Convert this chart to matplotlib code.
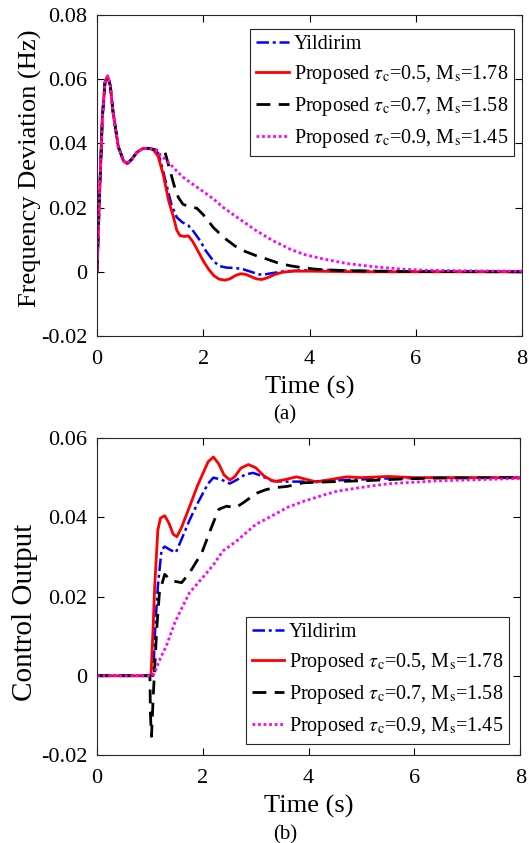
import matplotlib.pyplot as plt

plt.rcParams['font.family'] = ['Liberation Serif', 'DejaVu Serif']
plt.rcParams['mathtext.fontset'] = 'stix'
plt.rcParams['axes.unicode_minus'] = False

labels = ['Yildirim',
          r'Proposed $\tau_{\rm c}$=0.5, M$_{\rm s}$=1.78',
          r'Proposed $\tau_{\rm c}$=0.7, M$_{\rm s}$=1.58',
          r'Proposed $\tau_{\rm c}$=0.9, M$_{\rm s}$=1.45']

# (a) frequency deviation, shared start of all four responses
t_common = [0, 0.05, 0.1, 0.15, 0.2, 0.25, 0.3, 0.4, 0.5, 0.57, 0.65, 0.75, 0.85, 0.95, 1.05]
f_common = [0, 0.025, 0.048, 0.059, 0.061, 0.058, 0.05, 0.039, 0.0345, 0.0337, 0.035, 0.0372,
            0.0383, 0.0385, 0.0382]

t_f_yil = [1.15, 1.22, 1.31, 1.4, 1.5, 1.6, 1.72, 1.82, 1.94, 2.05, 2.19, 2.3, 2.44, 2.6, 2.75,
           2.9, 3.05, 3.13, 3.3, 3.5, 3.8, 4.3, 5, 6, 8]
f_yil = [0.037, 0.033, 0.027, 0.021, 0.017, 0.0155, 0.0144, 0.0125, 0.0097, 0.0065, 0.0034,
         0.0018, 0.0013, 0.0012, 0.0008, 0.0, -0.0008, -0.0009, -0.0004, 0.0001, 0.0004, 0.0006,
         0.0003, 0.0001, 0]

t_f_05 = [1.15, 1.25, 1.35, 1.44, 1.5, 1.56, 1.64, 1.72, 1.8, 1.9, 2.0, 2.1, 2.2, 2.3, 2.41, 2.5,
          2.6, 2.7, 2.8, 2.9, 3.0, 3.1, 3.2, 3.35, 3.5, 3.7, 4.0, 4.5, 5, 8]
f_05 = [0.036, 0.030, 0.022, 0.017, 0.013, 0.0113, 0.011, 0.0112, 0.0095, 0.0065, 0.0034, 0.0008,
        -0.0012, -0.0023, -0.0026, -0.0022, -0.0012, -0.0006, -0.0008, -0.0015, -0.0022, -0.0024,
        -0.0019, -0.0008, -0.0001, 0.0002, 0.0002, 0.0001, 0, 0]

t_f_07 = [1.15, 1.22, 1.28, 1.35, 1.45, 1.53, 1.62, 1.75, 1.88, 2.0, 2.19, 2.4, 2.6, 2.75, 3.0,
          3.19, 3.4, 3.63, 3.9, 4.13, 4.6, 5.2, 6, 8]
f_07 = [0.0378, 0.0378, 0.0373, 0.033, 0.027, 0.0232, 0.021, 0.0203, 0.0198, 0.0178, 0.0138,
        0.0105, 0.008, 0.0066, 0.005, 0.004, 0.0028, 0.0019, 0.0012, 0.0008, 0.0004, 0.0002,
        0.0001, 0]

t_f_09 = [1.12, 1.2, 1.3, 1.37, 1.5, 1.62, 1.75, 2.0, 2.2, 2.38, 2.6, 2.8, 3.0, 3.3, 3.63, 3.9,
          4.26, 4.7, 5.2, 5.7, 6.14, 7, 8]
f_09 = [0.0378, 0.0363, 0.0348, 0.0337, 0.0314, 0.0295, 0.0279, 0.025, 0.0226, 0.02, 0.0174,
        0.0151, 0.0128, 0.0098, 0.0071, 0.0054, 0.004, 0.0026, 0.0016, 0.0009, 0.0005, 0.0003,
        0.0002]

# (b) control output
t_u_yil = [0, 1.06, 1.1, 1.15, 1.22, 1.28, 1.38, 1.49, 1.6, 1.75, 1.9, 2.0, 2.1, 2.2, 2.35, 2.51,
           2.65, 2.8, 2.95, 3.1, 3.33, 3.6, 4.0, 4.5, 4.9, 5.5, 6.5, 8]
u_yil = [0, 0, 0.012, 0.0226, 0.0318, 0.0326, 0.0318, 0.0311, 0.0345, 0.0393, 0.0435, 0.046,
         0.0485, 0.05, 0.0495, 0.0485, 0.0495, 0.0508, 0.0512, 0.0505, 0.0491, 0.049, 0.049,
         0.0493, 0.0495, 0.0498, 0.05, 0.05]

t_u_05 = [0, 1.02, 1.06, 1.09, 1.15, 1.2, 1.28, 1.36, 1.44, 1.51, 1.6, 1.75, 1.9, 2.0, 2.1, 2.2,
          2.3, 2.4, 2.51, 2.6, 2.72, 2.86, 3.0, 3.15, 3.3, 3.39, 3.55, 3.77, 3.95, 4.15, 4.4,
          4.72, 5.0, 5.5, 6, 8]
u_05 = [0, 0, 0.012, 0.0226, 0.0368, 0.0398, 0.0404, 0.0385, 0.0357, 0.0351, 0.0375, 0.0427,
        0.048, 0.051, 0.054, 0.0552, 0.0535, 0.0507, 0.0494, 0.0502, 0.0524, 0.0533, 0.0525,
        0.0505, 0.0493, 0.0491, 0.0495, 0.0502, 0.0496, 0.0489, 0.0495, 0.0502, 0.05, 0.0503,
        0.05, 0.05]

t_u_07 = [0, 1.0, 1.01, 1.03, 1.06, 1.09, 1.13, 1.18, 1.28, 1.4, 1.6, 1.75, 1.98, 2.15, 2.3, 2.45,
          2.62, 2.8, 3.0, 3.2, 3.39, 3.6, 3.9, 4.5, 5.2, 5.82, 6.5, 8]
u_07 = [0, 0, -0.01, -0.0153, -0.006, 0.002, 0.012, 0.021, 0.0256, 0.024, 0.0235, 0.026, 0.031,
        0.037, 0.042, 0.0428, 0.0424, 0.044, 0.046, 0.047, 0.0475, 0.0478, 0.0487, 0.049, 0.0493,
        0.0497, 0.0499, 0.05]

t_u_09 = [0, 1.05, 1.09, 1.2, 1.31, 1.47, 1.6, 1.75, 1.98, 2.2, 2.38, 2.62, 3.0, 3.26, 3.6, 3.9,
          4.28, 4.54, 5.18, 5.54, 6.46, 7.2, 8]
u_09 = [0, 0, 0.0008, 0.0045, 0.0075, 0.0134, 0.017, 0.021, 0.0245, 0.028, 0.0315, 0.0338,
        0.0382, 0.04, 0.0425, 0.044, 0.0456, 0.0466, 0.0479, 0.0485, 0.0492, 0.0495, 0.0498]

styles = [dict(color='#0000FF', ls=(0, (5, 1.5, 1.2, 1.5)), lw=1.8),
          dict(color='#FF0000', ls='-', lw=2.0),
          dict(color='black', ls=(0, (5, 3)), lw=2.0),
          dict(color='#FF00FF', ls=(0, (1, 1)), lw=2.0)]

fig = plt.figure(figsize=(5.29, 8.43), dpi=100)
ax1 = fig.add_axes([0.1834, 0.6014, 0.8034, 0.3808])
ax2 = fig.add_axes([0.1834, 0.1044, 0.8000, 0.3760])

top = [(t_common + t_f_yil, f_common + f_yil),
       (t_common + t_f_05, f_common + f_05),
       (t_common + t_f_07, f_common + f_07),
       (t_common + t_f_09, f_common + f_09)]
bot = [(t_u_yil, u_yil), (t_u_05, u_05), (t_u_07, u_07), (t_u_09, u_09)]

for (x, y), st, lab in zip(top, styles, labels):
    ax1.plot(x, y, label=lab, **st)
for (x, y), st, lab in zip(bot, styles, labels):
    ax2.plot(x, y, label=lab, **st)

axes_cfg = [(ax1, (-0.02, 0.08), 'Frequency Deviation (Hz)', 19, (-0.129, 0.523)),
            (ax2, (-0.02, 0.06), 'Control Output', 21, (-0.139, 0.45))]
for ax, ylim, yl, yfs, ypos in axes_cfg:
    ax.set_xlim(0, 8)
    ax.set_ylim(*ylim)
    ax.set_xticks([0, 2, 4, 6, 8])
    ax.set_yticks([round(v * 0.02, 2) for v in range(int(round(ylim[0] / 0.02)),
                                                      int(round(ylim[1] / 0.02)) + 1)])
    ax.set_yticklabels(['0' if abs(v) < 1e-9 else f'{v:.2f}' for v in ax.get_yticks()])
    ax.tick_params(direction='in', top=True, right=True, labelsize=16, length=5, width=0.8)
    ax.tick_params(axis='x', pad=10)
    ax.tick_params(axis='y', pad=7)
    for s in ax.spines.values():
        s.set_linewidth(0.8)
        s.set_color('#262626')
    ax.set_xlabel('Time (s)', fontsize=19, labelpad=5)
    ax.set_ylabel(yl, fontsize=yfs)
    ax.yaxis.set_label_coords(*ypos)

leg_kw = dict(fontsize=14.5, frameon=True, fancybox=False, framealpha=1, edgecolor='#262626',
              handlelength=1.6, handletextpad=0.25, borderpad=0.3, labelspacing=0.45,
              borderaxespad=0)
l1 = ax1.legend(loc='upper right', bbox_to_anchor=(0.981, 0.956), **leg_kw)
l2 = ax2.legend(loc='lower right', bbox_to_anchor=(0.974, 0.035), **leg_kw)
for l in (l1, l2):
    l.get_frame().set_linewidth(0.8)

fig.text(285 / 529, 1 - 415 / 843, '(a)', ha='center', va='center', fontsize=15)
fig.text(285 / 529, 1 - 835 / 843, '(b)', ha='center', va='center', fontsize=15)

fig.savefig('out.png', dpi=100)
